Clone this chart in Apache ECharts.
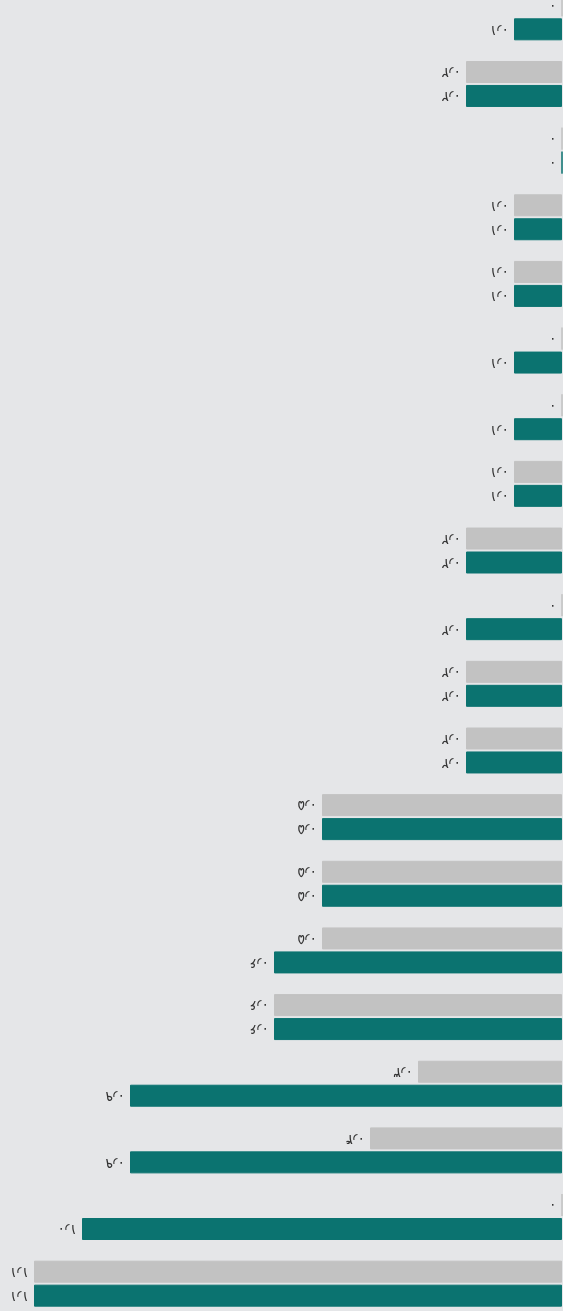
<!DOCTYPE html>
<html>
<head>
<meta charset="utf-8">
<title>chart</title>
<script src="https://cdn.jsdelivr.net/npm/echarts@6/dist/echarts.min.js"></script>
<style>
    html, body { margin: 0; padding: 0; background: #e5e6e8; overflow: hidden; }
    /* plot runs a little past the window edges, like the original */
    #bar-chart { width: 577px; height: 1333px; margin-left: -14px; margin-top: -16px; }
</style>
</head>
<body>
<div id="bar-chart"></div>
<script>
// rows top to bottom
var categories = ['r1', 'r2', 'r3', 'r4', 'r5', 'r6', 'r7', 'r8', 'r9', 'r10',
    'r11', 'r12', 'r13', 'r14', 'r15', 'r16', 'r17', 'r18', 'r19', 'r20'];
var greyValues = [0, 0.2, 0, 0.1, 0.1, 0, 0, 0.1, 0.2, 0, 0.2, 0.2, 0.5, 0.5, 0.5, 0.6, 0.3, 0.4, 0, 1.1];
var tealValues = [0.1, 0.2, 0, 0.1, 0.1, 0.1, 0.1, 0.1, 0.2, 0.2, 0.2, 0.2, 0.5, 0.5, 0.6, 0.6, 0.9, 0.9, 1.0, 1.1];
var faDigits = ['۰', '۱', '۲', '۳', '۴', '۵', '۶', '۷', '۸', '۹'];

// persian digits, arabic decimal separator
function fmt(v){
    if(v == 0){
        return faDigits[0];
    }
    var s = v.toFixed(1);
    var out = '';
    for(var i = 0; i < s.length; i++){
        var c = s.charAt(i);
        if(c == '.'){
            out += '٫';
        }else{
            out += faDigits[parseInt(c, 10)];
        }
    }
    return out;
}

var barChart = echarts.init(document.getElementById('bar-chart'));

var labelStyle = {
    show: true,
    position: 'left',
    distance: 5,
    rotate: 180,        //labels are drawn upside down
    align: 'left',
    verticalAlign: 'middle',
    color: '#333',
    fontSize: 14,
    fontFamily: 'DejaVu Sans',
    formatter: function(p){
        return fmt(p.value);
    }
};

var option = {
    backgroundColor: '#e5e6e8',
    animation: false,
    grid: {
        left: 0,
        right: 1,
        top: 0,
        bottom: 0
    },
    xAxis: {
        type: 'value',
        inverse: true,
        min: 0,
        max: 1.2,
        show: false
    },
    yAxis: {
        type: 'category',
        inverse: true,
        data: categories,
        show: false
    },
    series: [{
        type: 'bar',
        data: greyValues,
        barWidth: 22,
        barGap: '9%',
        itemStyle: { color: '#c2c2c2', borderColor: '#c2c2c2', borderWidth: 1 },
        label: labelStyle
    }, {
        type: 'bar',
        data: tealValues,
        barWidth: 22,
        itemStyle: { color: '#0b7370', borderColor: '#0b7370', borderWidth: 1 },
        label: labelStyle
    }]
};
barChart.setOption(option);
</script>
</body>
</html>
